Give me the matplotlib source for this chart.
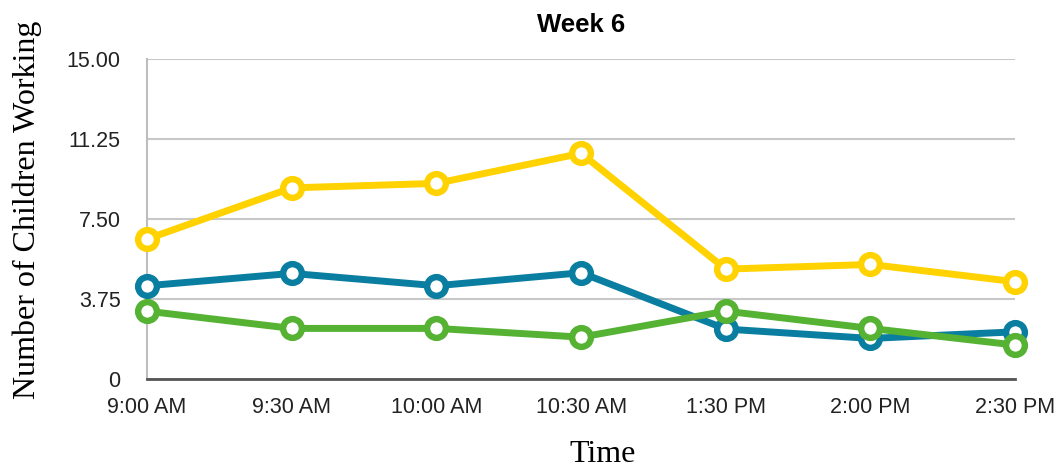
import matplotlib
matplotlib.use("Agg")
import matplotlib.pyplot as plt

times = ["9:00 AM", "9:30 AM", "10:00 AM", "10:30 AM", "1:30 PM", "2:00 PM", "2:30 PM"]
yellow_vals = [6.55, 8.95, 9.16, 10.57, 5.14, 5.36, 4.55]
blue_vals = [4.36, 4.94, 4.36, 4.97, 2.33, 1.89, 2.20]
green_vals = [3.17, 2.36, 2.36, 1.95, 3.17, 2.36, 1.58]
y_ticks = [0, 3.75, 7.50, 11.25, 15.00]
y_tick_labels = ["0", "3.75", "7.50", "11.25", "15.00"]

series = [
    (yellow_vals, "#ffd200"),
    (blue_vals, "#0a7ea1"),
    (green_vals, "#55b233"),
]

fig = plt.figure(figsize=(10.58, 4.67), dpi=100)
ax = fig.add_axes([0.139, 0.189, 0.8205, 0.685])

x = list(range(len(times)))
for vals, color in series:
    ax.plot(x, vals, color=color, lw=5, marker="o", ms=13.5,
            mfc="white", mec=color, mew=4.6, zorder=3, clip_on=False)

ax.set_xlim(0, len(times) - 1)
ax.set_ylim(0, 15)
ax.set_yticks(y_ticks)
ax.set_yticklabels(y_tick_labels)
ax.set_xticks(x)
ax.set_xticklabels(times)

for lab in ax.get_xticklabels() + ax.get_yticklabels():
    lab.set_fontfamily("Liberation Sans")
    lab.set_fontsize(15.5)
    lab.set_color("#222222")

ax.tick_params(axis="x", length=0, pad=13.5)
ax.tick_params(axis="y", length=0, pad=19)

ax.grid(axis="y", color="#c8c8c8", lw=1.5)
ax.set_axisbelow(True)
for side in ("top", "right"):
    ax.spines[side].set_visible(False)
ax.spines["left"].set_color("#bdbdbd")
ax.spines["left"].set_linewidth(1.5)
ax.spines["bottom"].set_color("#555555")
ax.spines["bottom"].set_linewidth(2)

ax.set_title("Week 6", family="Liberation Sans", fontweight="bold",
             fontsize=18.5, pad=19)
ax.set_ylabel("Number of Children Working", family="Liberation Serif",
              fontsize=23)
ax.yaxis.set_label_coords(-0.121, 0.527)
ax.set_xlabel("Time", family="Liberation Serif", fontsize=23)
ax.xaxis.set_label_coords(0.525, -0.19)

fig.savefig("out.png", dpi=100)
